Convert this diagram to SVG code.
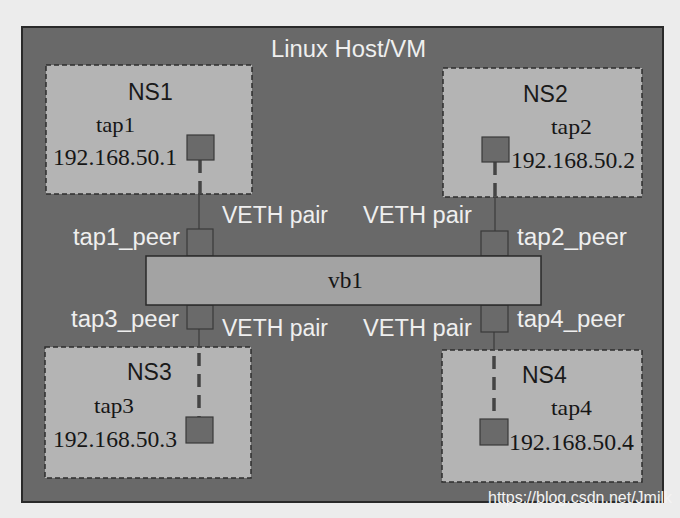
<svg xmlns="http://www.w3.org/2000/svg" width="680" height="518" viewBox="0 0 680 518">
<style>
.sans{font-family:"Liberation Sans",Arial,sans-serif}
.serif{font-family:"Liberation Serif","Times New Roman",serif}
.ns{fill:#b4b4b4;stroke:#2e2e2e;stroke-width:1.5;stroke-dasharray:5 3}
.tap{fill:#6a6a6a;stroke:#3a3a3a;stroke-width:1.2}
.nslabel{font-size:23px;fill:#1a1a1a}
.tapl{font-size:22px;fill:#161616}
.ip{font-size:24px;fill:#161616}
.wt{font-size:23px;fill:#efefef}
.dash{stroke:#444;stroke-width:3.5;stroke-dasharray:13 8;fill:none}
.thin{stroke:#444;stroke-width:1.5;fill:none}
</style>
<rect x="0" y="0" width="680" height="518" fill="#ececec"/>
<g id="host">
<rect x="22" y="27" width="641" height="475" fill="#696969" stroke="#2a2a2a" stroke-width="2"/>
<text class="sans wt" x="271" y="57" textLength="155" lengthAdjust="spacingAndGlyphs">Linux Host/VM</text>
</g>
<g id="NS1">
<rect class="ns" x="46" y="65" width="206" height="129"/>
<text class="sans nslabel" x="128" y="100">NS1</text>
<text class="serif tapl" x="96" y="132" textLength="39" lengthAdjust="spacingAndGlyphs">tap1</text>
<text class="serif ip" x="53" y="165" textLength="124" lengthAdjust="spacingAndGlyphs">192.168.50.1</text>
</g>
<g id="NS2">
<rect class="ns" x="443" y="68" width="199" height="129"/>
<text class="sans nslabel" x="523" y="102">NS2</text>
<text class="serif tapl" x="551" y="134" textLength="41" lengthAdjust="spacingAndGlyphs">tap2</text>
<text class="serif ip" x="511" y="168" textLength="124" lengthAdjust="spacingAndGlyphs">192.168.50.2</text>
</g>
<g id="NS3">
<rect class="ns" x="45" y="347" width="206" height="131"/>
<text class="sans nslabel" x="127" y="380">NS3</text>
<text class="serif tapl" x="94" y="413" textLength="40" lengthAdjust="spacingAndGlyphs">tap3</text>
<text class="serif ip" x="53" y="447" textLength="124" lengthAdjust="spacingAndGlyphs">192.168.50.3</text>
</g>
<g id="NS4">
<rect class="ns" x="442" y="350" width="200" height="132"/>
<text class="sans nslabel" x="522" y="383">NS4</text>
<text class="serif tapl" x="551" y="415" textLength="41" lengthAdjust="spacingAndGlyphs">tap4</text>
<text class="serif ip" x="509" y="450" textLength="125" lengthAdjust="spacingAndGlyphs">192.168.50.4</text>
</g>
<g id="connectors">
<line class="dash" x1="200" y1="160" x2="200" y2="194"/>
<line class="thin" x1="199" y1="194" x2="199" y2="229"/>
<line class="dash" x1="495" y1="162" x2="495" y2="197"/>
<line class="thin" x1="495" y1="197" x2="495" y2="231"/>
<line class="thin" x1="199" y1="329" x2="199" y2="347"/>
<line class="dash" x1="199" y1="353" x2="199" y2="417"/>
<line class="thin" x1="494" y1="332" x2="494" y2="350"/>
<line class="dash" x1="494" y1="356" x2="494" y2="419"/>
</g>
<g id="tap1"><rect class="tap" x="187" y="135" width="27" height="25"/></g>
<g id="tap2"><rect class="tap" x="482" y="137" width="27" height="25"/></g>
<g id="tap3"><rect class="tap" x="186" y="417" width="27" height="26"/></g>
<g id="tap4"><rect class="tap" x="480" y="419" width="28" height="26"/></g>
<g id="tap1_peer"><rect class="tap" x="187" y="229" width="26" height="27"/>
<text class="sans wt" x="73" y="245" textLength="107" lengthAdjust="spacingAndGlyphs">tap1_peer</text></g>
<g id="tap2_peer"><rect class="tap" x="481" y="231" width="27" height="25"/>
<text class="sans wt" x="517" y="245" textLength="110" lengthAdjust="spacingAndGlyphs">tap2_peer</text></g>
<g id="tap3_peer"><rect class="tap" x="187" y="305" width="26" height="24"/>
<text class="sans wt" x="71" y="327" textLength="108" lengthAdjust="spacingAndGlyphs">tap3_peer</text></g>
<g id="tap4_peer"><rect class="tap" x="481" y="305" width="27" height="27"/>
<text class="sans wt" x="517" y="327" textLength="108" lengthAdjust="spacingAndGlyphs">tap4_peer</text></g>
<g id="vb1">
<rect x="146" y="256" width="395" height="49" fill="#a3a3a3" stroke="#2a2a2a" stroke-width="1.5"/>
<text class="serif" x="328" y="288" font-size="23" fill="#161616" textLength="35" lengthAdjust="spacingAndGlyphs">vb1</text>
</g>
<g id="veth-labels">
<text class="sans wt" x="222" y="223" textLength="106" lengthAdjust="spacingAndGlyphs">VETH pair</text>
<text class="sans wt" x="363" y="223" textLength="109" lengthAdjust="spacingAndGlyphs">VETH pair</text>
<text class="sans wt" x="222" y="336" textLength="106" lengthAdjust="spacingAndGlyphs">VETH pair</text>
<text class="sans wt" x="363" y="336" textLength="109" lengthAdjust="spacingAndGlyphs">VETH pair</text>
</g>
<text class="sans" x="488" y="503" font-size="16" fill="#f4f4f4" textLength="184" lengthAdjust="spacingAndGlyphs">https://blog.csdn.net/Jmilk</text>
</svg>
